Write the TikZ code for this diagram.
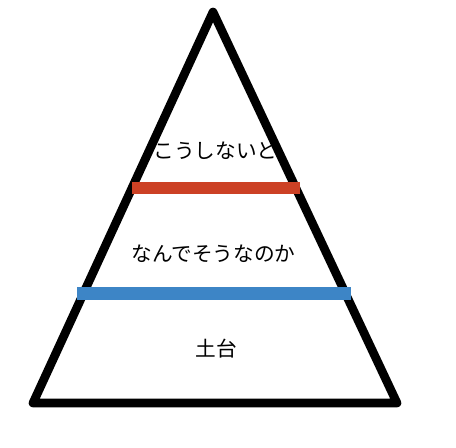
\documentclass[tikz,border=0pt]{standalone}
\usepackage{fontspec}
\setmainfont{Noto Sans CJK JP}
\usepackage{tikz}
\definecolor{BarRed}{HTML}{CC4125}
\definecolor{BarBlue}{HTML}{3D85C6}

\begin{document}
\begin{tikzpicture}[x=0.75pt, y=-0.75pt, every node/.style={font=\fontsize{15.5}{18}\selectfont}]
  \useasboundingbox (0,0) rectangle (456,448);
  \draw[line width=6.5pt, line join=round] (213,12) -- (397,403) -- (33,403) -- cycle;
  \draw[BarRed, line width=9.5pt] (132,188) -- (300,188);
  \draw[BarBlue, line width=9.5pt] (77,293.5) -- (351,293.5);
  \node (top) at (215.5,151) {こうしないと};
  \node (mid) at (213.5,254) {なんでそうなのか};
  \node (base) at (216.5,349) {土台};
\end{tikzpicture}
\end{document}
